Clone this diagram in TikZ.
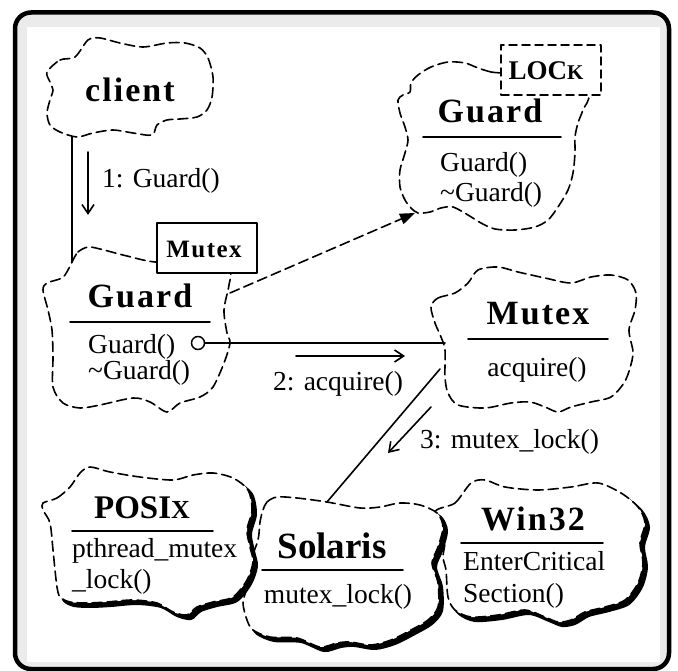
\documentclass[tikz,border=0pt]{standalone}
\usepackage{fontspec}
\setmainfont{Liberation Serif}
\newfontfamily\ttlfont[LetterSpace=6]{Liberation Serif}
\usetikzlibrary{arrows.meta}

% booch style cloud with a heavy shadow
\newcommand\heavycloud[1]{%
  \fill[shadow] plot[smooth cycle] coordinates {#1};
  \draw[cloud] plot[smooth cycle] coordinates {#1};}

\begin{document}
\begin{tikzpicture}[x=1pt, y=-1pt, line join=round, line cap=round,
    >={Straight Barb[length=9pt,width=12pt]},
    cloud/.style={dash pattern=on 10pt off 5pt, line width=1.6pt, fill=white},
    shadow/.style={fill=black, draw=black, line width=2pt, shift={(4,4)}},
    ttl/.style={anchor=base, inner sep=0pt, font=\ttlfont\bfseries\fontsize{34}{36}\selectfont},
    ttlb/.style={anchor=base, inner sep=0pt, font=\bfseries\fontsize{33}{36}\selectfont},
    txt/.style={anchor=base west, inner sep=0pt, font=\fontsize{27.5}{30}\selectfont},
    rule/.style={line width=1.8pt},
    conn/.style={line width=1.6pt}]
  \useasboundingbox (0,0) rectangle (678,671);
  % frame
  \filldraw[fill=black!8, draw=black, line width=4.5pt, rounded corners=16pt]
    (15,12.5) rectangle (669,669);
  \fill[white] (27,27) rectangle (660,662);

  \path
  (72,137) coordinate (cl-s)
  (72,262) coordinate (gd-n)
  (230,293) coordinate (gd-e)
  (415,213) coordinate (lk-sw)
  (445,343) coordinate (mx-w)
  (440,369) coordinate (mx-sw)
  (327,502) coordinate (so-n)
  (88,152) coordinate (m1-a) (88,215) coordinate (m1-b)
  (296,356) coordinate (m2-a) (405,356) coordinate (m2-b)
  (431,407) coordinate (m3-a) (388,453) coordinate (m3-b)
  ;

  % clouds
  \draw[cloud] plot[smooth cycle] coordinates {(47,72) (60,60) (75,57) (88,40)
    (100,38) (120,43) (143,47) (167,43) (185,43) (200,48) (208,58) (213,77)
    (212,97) (207,110) (197,117) (180,119) (167,120) (157,125) (152,135)
    (133,133) (113,130) (93,133) (77,137) (60,132) (50,125) (47,113) (50,100)
    (53,90) (50,82)};
  \draw[cloud] plot[smooth cycle] coordinates {(72,262) (78,252) (88,247)
    (100,249) (127,256) (155,262) (200,263) (229,270) (229,285) (224,310)
    (227,333) (230,343) (224,363) (213,387) (200,397) (180,403) (167,412)
    (150,402) (133,398) (100,405) (80,408) (63,403) (53,387) (53,357) (52,330)
    (48,310) (43,290) (47,283) (62,278) (68,270)};
  \draw[cloud] plot[smooth cycle] coordinates {(501,73) (491,72) (478,68)
    (465,63) (448,62) (431,67) (418,75) (411,83) (410,92) (403,95) (398,100)
    (400,113) (405,127) (408,140) (405,153) (400,170) (400,187) (405,200)
    (411,208) (418,213) (430,212) (441,208) (453,207) (468,215) (481,223)
    (495,229) (515,230) (535,227) (548,220) (558,207) (568,190) (573,173)
    (575,153) (575,137) (578,123) (583,110) (588,95) (560,82) (530,76)};
  \draw[cloud] plot[smooth cycle] coordinates {(431,307) (438,298) (455,293)
    (468,283) (478,270) (498,267) (518,272) (545,278) (571,283) (591,277)
    (611,275) (628,280) (636,293) (635,310) (629,330) (633,352) (630,368)
    (624,383) (611,397) (591,402) (571,407) (558,412) (545,407) (530,402)
    (511,403) (485,408) (458,405) (448,393) (445,377) (445,350) (441,337)
    (435,323)};

  \heavycloud{(435,512) (455,503) (471,483) (485,480) (505,487) (538,490)
    (571,487) (598,483) (621,493) (638,507) (645,523) (640,543) (643,563)
    (638,583) (625,600) (605,607) (585,612) (571,620) (558,622) (545,617)
    (525,610) (498,615) (471,617) (455,610) (448,597) (446,570) (443,557)
    (445,537)}
  \heavycloud{(263,510) (267,502) (277,497) (297,498) (327,502) (360,508)
    (380,507) (400,503) (420,505) (437,513) (443,527) (438,547) (432,563)
    (438,583) (438,607) (428,620) (411,630) (391,640) (371,645) (350,642)
    (337,643) (320,647) (297,638) (270,637) (253,630) (247,620) (243,603)
    (247,587) (250,563) (258,540) (260,522)}
  \heavycloud{(43,503) (57,498) (70,487) (80,473) (90,467) (110,472) (140,477)
    (173,480) (193,475) (213,473) (233,478) (248,490) (252,510) (247,530)
    (250,547) (253,562) (247,580) (233,597) (213,602) (197,607) (187,615)
    (173,612) (157,603) (133,600) (107,602) (87,603) (70,602) (60,597) (57,587)
    (55,570) (53,550) (50,523) (43,510)}

  % adornments
  \node[draw, fill=white, line width=1.4pt, minimum width=100pt, minimum height=50pt]
    (mxbox) at (207,248) {};
  \node[draw, fill=white, line width=1.5pt, dash pattern=on 8pt off 5pt,
    minimum width=100pt, minimum height=50pt] (lkbox) at (551,70) {};
  \node[anchor=base, inner sep=0pt, font=\ttlfont\bfseries\fontsize{25}{27}\selectfont]
    (mxboxname) at (204,258) {Mutex};
  \node[anchor=base, inner sep=0pt, font=\bfseries\fontsize{27}{29}\selectfont]
    (lkboxname) at (546,80) {LOC{\fontsize{21}{23}\selectfont K}};

  % names and operations
  \node[ttl] (clientname) at (130,102) {client};
  \node[ttl] (guardname) at (140,308) {Guard};
  \draw[rule] (70,322) -- (210,322);
  \node[txt] (guardctor) at (88,353) {Guard()};
  \node[txt] (guarddtor) at (88,380) {\textasciitilde Guard()};

  \node[ttl] (lockname) at (490,123) {Guard};
  \draw[rule] (423,137) -- (561,137);
  \node[txt] (lockctor) at (440,172) {Guard()};
  \node[txt] (lockdtor) at (440,202) {\textasciitilde Guard()};

  \node[ttl] (mutexname) at (538,325) {Mutex};
  \draw[rule] (468,339) -- (608,339);
  \node[txt, anchor=base] (mutexop) at (537,376) {acquire()};

  \node[ttlb] (posixname) at (142,518) {POSI{\fontsize{26}{28}\selectfont X}};
  \draw[rule] (72,531) -- (213,531);
  \node[txt] (posixop) at (72,557) {pthread\_mutex};
  \node[txt] (posixop2) at (72,588) {\_lock()};

  \node[ttlb, font=\bfseries\fontsize{37}{40}\selectfont] (solname) at (332,558) {Solaris};
  \draw[rule] (262,570) -- (403,570);
  \node[txt, anchor=base] (solop) at (338,603) {mutex\_lock()};

  \node[ttl] (winname) at (533,530) {Win32};
  \draw[rule] (461,543) -- (603,543);
  \node[txt] (winop) at (463,570) {EnterCritical};
  \node[txt] (winop2) at (463,602) {Section()};

  % links
  \draw[conn] (cl-s) -- (gd-n);
  \draw[conn, dash pattern=on 10pt off 5pt, -{Triangle[length=15pt,width=11pt]}]
    (gd-e) -- (lk-sw);
  \node[draw, circle, fill=white, line width=1.5pt, minimum size=13pt, inner sep=0pt]
    (knob) at (198,343) {};
  \draw[conn] (knob) -- (mx-w);
  \draw[conn] (mx-sw) -- (so-n);

  % messages
  \draw[conn, ->] (m1-a) -- (m1-b);
  \node[txt] (msg1) at (102,188) {1: Guard()};
  \draw[conn, ->] (m2-a) -- (m2-b);
  \node[txt] (msg2) at (273,390) {2: acquire()};
  \draw[conn, ->] (m3-a) -- (m3-b);
  \node[txt] (msg3) at (420,448) {3: mutex\_lock()};
\end{tikzpicture}
\end{document}
